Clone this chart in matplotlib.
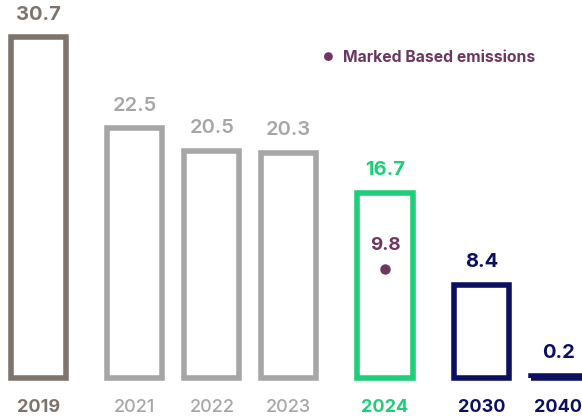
import matplotlib
matplotlib.use("Agg")
import matplotlib.pyplot as plt
from matplotlib.patches import Rectangle

years = ["2019", "2021", "2022", "2023", "2024", "2030", "2040"]
values = [30.7, 22.5, 20.5, 20.3, 16.7, 8.4, 0.2]
market_year = "2024"
market_value = 9.8
legend_label = "Marked Based emissions"

positions = [0, 1.25, 2.25, 3.25, 4.5, 5.75, 6.75]
colors = ["#7e746d", "#a6a6a6", "#a6a6a6", "#a6a6a6", "#1dcf79", "#0b1160", "#0b1160"]
label_weights = ["bold", "semibold", "semibold", "semibold", "bold", "bold", "bold"]
year_weights = ["bold", "medium", "medium", "medium", "bold", "bold", "bold"]
purple = "#6d3762"

plt.rcParams['font.family'] = ['Inter', 'DejaVu Sans']

fig = plt.figure(figsize=(5.82, 4.19), dpi=100)
ax = fig.add_axes([0, 0, 1, 1])
ax.set_xlim(-0.5, 7.058)
ax.set_ylim(-3.70, 34.08)
ax.axis("off")

width = 0.72
for x, v, c, w, yr, yw in zip(positions, values, colors, label_weights, years, year_weights):
    ax.add_patch(Rectangle((x - width / 2, 0), width, v, fill=False,
                           edgecolor=c, linewidth=4.0, joinstyle="miter"))
    ax.annotate(f"{v}", (x, v), xytext=(0, 10), textcoords="offset points",
                ha="center", va="bottom", fontsize=14.5, color=c, fontweight=w)
    ax.annotate(yr, (x, 0), xytext=(0, -21), textcoords="offset points",
                ha="center", va="center", fontsize=13, color=c, fontweight=yw)

mx = positions[years.index(market_year)]
ax.plot([mx], [market_value], "o", color=purple, markersize=6.5)
ax.annotate(f"{market_value}", (mx, market_value), xytext=(0, 17), textcoords="offset points",
            ha="center", va="center", fontsize=13.5, color=purple, fontweight="bold")

# legend
lx, ly = 0.564, 0.862
fig.text(lx, ly, "●", color=purple, fontsize=8.5, ha="center", va="center")
fig.text(lx + 0.025, ly, legend_label, color=purple, fontsize=11.3, fontweight="bold",
         ha="left", va="center")

fig.savefig("out.png", dpi=100)
